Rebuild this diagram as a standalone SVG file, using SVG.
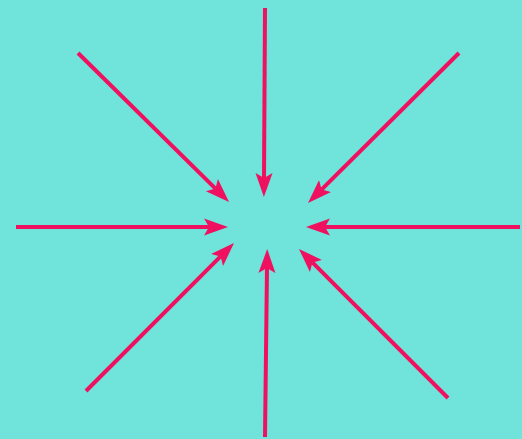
<svg xmlns="http://www.w3.org/2000/svg" width="522" height="439" viewBox="0 0 522 439">
<defs>
<marker id="ah" markerUnits="userSpaceOnUse" markerWidth="26" markerHeight="20" refX="5" refY="10" orient="auto">
<path d="M0,1.5 L24,10 L0,18.5 L5,10 Z" fill="#f01060"/>
</marker>
<style>
.a{stroke:#f01060;stroke-width:4;fill:none;marker-end:url(#ah)}
</style>
</defs>
<rect width="522" height="439" fill="#70e3da"/>
<g id="connectors">
<line class="a" x1="265" y1="8" x2="264" y2="178"/>
<line class="a" x1="78" y1="53" x2="215.5" y2="188.6"/>
<line class="a" x1="459" y1="53" x2="321.5" y2="189.6"/>
<line class="a" x1="16" y1="227" x2="209" y2="227"/>
<line class="a" x1="520" y1="227" x2="325" y2="227"/>
<line class="a" x1="86" y1="391" x2="220.6" y2="256.4"/>
<line class="a" x1="265" y1="437" x2="267" y2="268"/>
<line class="a" x1="448" y1="398" x2="312.4" y2="262.4"/>
</g>
</svg>
